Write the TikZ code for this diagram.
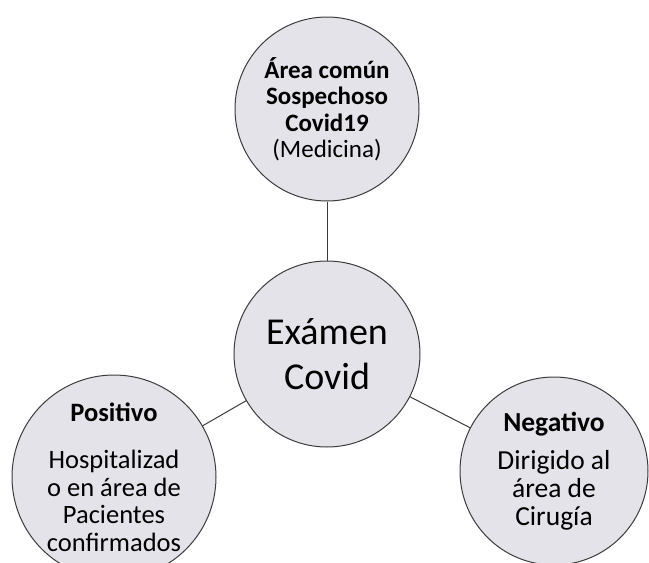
\documentclass[tikz,border=0pt]{standalone}
\usepackage{fontspec}
\setmainfont{Carlito}
\usepackage{tikz}
\definecolor{bubblefill}{HTML}{E3E3E9}
\definecolor{bubbleline}{HTML}{3C3C3C}
\tikzset{bubble/.style={circle, draw=bubbleline, fill=bubblefill, line width=1pt, inner sep=0pt, align=center, text=black}}
\tikzset{link/.style={line width=1pt, draw=bubbleline}}
\newcommand{\tight}[2]{\fontsize{#1}{#2}\selectfont\lineskiplimit=-50pt}

\begin{document}
\begin{tikzpicture}[x=1pt,y=-1pt]
\useasboundingbox (0,0) rectangle (649,563);
\clip (0,0) rectangle (649,563);
\node (centre) at (327,354)[bubble, minimum size=186pt, font=\tight{38}{45}]{Exámen\\Covid};
\node (top) at (327,109)[bubble, minimum size=184pt, font=\tight{25}{26.5}]{\textbf{Área común}\\\textbf{Sospechoso}\\\textbf{Covid19}\\(Medicina)};
\node (pos) at (114,477)[bubble, minimum size=204pt, font=\tight{26.5}{27.5}]{\textbf{Positivo}\\[20pt]Hospitalizad\\o en área de\\Pacientes\\confirmados};
\node (neg) at (554,471)[bubble, minimum size=188pt, font=\tight{27.5}{28}]{\textbf{Negativo}\\[10pt]Dirigido al\\área de\\Cirugía};
\draw[link] (top)--(centre);
\draw[link] (centre)--(pos);
\draw[link] (centre)--(neg);
\end{tikzpicture}
\end{document}
